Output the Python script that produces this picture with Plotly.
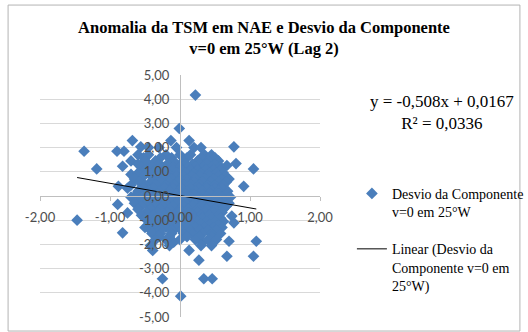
import plotly.graph_objects as go

# SST anomaly in NAE (x) vs. deviation of the v=0 component at 25°W (y), lag 2
anom_x = [
    # scattered points
    0.22, -0.01, -1.37, -1.19, -0.68, -0.80, -0.90, -0.56, -0.13, 0.13,
    0.77, 0.67, 0.80, 1.05, 0.91, 0.63, -0.82, -0.88, -0.70,
    -1.47, -0.82, -0.89, -0.75, -0.39, -0.09, -0.25, 0.01, 0.13, 0.27,
    0.34, 0.46, 0.67, 0.70, 0.77, 0.74, 1.09, 1.05, 0.32,
    # central cloud
    -0.45, -0.30, -0.05, 0.20, 0.30,
    -0.60, -0.45, -0.20, 0.00, 0.15, 0.35, 0.45,
    -0.52, -0.28, -0.12, 0.10, 0.30, 0.50,
    -0.70, -0.50, -0.35, -0.10, 0.05, 0.25, 0.40, 0.55,
    -0.60, -0.45, -0.30, -0.18, -0.05, 0.08, 0.18, 0.28, 0.38, 0.50,
    -0.55, -0.40, -0.25, -0.10, 0.00, 0.12, 0.22, 0.33, 0.45, 0.58,
    -0.50, -0.35, -0.22, -0.10, 0.02, 0.15, 0.25, 0.37, 0.48, 0.58,
    -0.60, -0.45, -0.30, -0.18, -0.05, 0.08, 0.20, 0.30, 0.42, 0.52, 0.62,
    -0.52, -0.30, -0.18, -0.05, 0.05, 0.17, 0.28, 0.42, 0.55, 0.65,
    -0.65, -0.38, -0.25, -0.12, 0.00, 0.10, 0.22, 0.35, 0.48, 0.60, 0.70,
    -0.58, -0.42, -0.28, -0.15, -0.02, 0.10, 0.20, 0.32, 0.44, 0.55, 0.66,
    -0.70, -0.50, -0.35, -0.20, -0.08, 0.05, 0.15, 0.28, 0.40, 0.50, 0.62,
    -0.75, -0.52, -0.38, -0.22, -0.10, 0.02, 0.16, 0.27, 0.38, 0.50, 0.60,
    -0.60, -0.45, -0.30, -0.15, -0.02, 0.10, 0.22, 0.32, 0.45, 0.55, 0.68,
    -0.62, -0.45, -0.32, -0.20, -0.05, 0.08, 0.20, 0.33, 0.44, 0.55, 0.66,
    -0.70, -0.52, -0.38, -0.25, -0.10, 0.02, 0.15, 0.27, 0.38, 0.50, 0.60, 0.72,
    -0.58, -0.42, -0.27, -0.12, 0.02, 0.14, 0.27, 0.40, 0.52, 0.64,
    -0.65, -0.48, -0.32, -0.20, -0.05, 0.08, 0.20, 0.33, 0.45, 0.58, 0.70,
    -0.55, -0.38, -0.25, -0.10, 0.05, 0.18, 0.30, 0.42, 0.55, 0.66,
    -0.60, -0.42, -0.28, -0.15, 0.00, 0.12, 0.25, 0.38, 0.50, 0.62,
    -0.48, -0.32, -0.18, -0.02, 0.12, 0.25, 0.36, 0.48, 0.60,
    -0.55, -0.38, -0.22, -0.08, 0.05, 0.18, 0.30, 0.42, 0.55,
    -0.50, -0.35, -0.20, -0.05, 0.08, 0.20, 0.32, 0.45, 0.58,
    -0.45, -0.30, -0.15, 0.00, 0.12, 0.25, 0.38, 0.50, 0.62,
    -0.40, -0.25, -0.10, 0.05, 0.18, 0.30, 0.42, 0.55,
    -0.50, -0.35, -0.20, -0.05, 0.10, 0.22, 0.35, 0.48, 0.60,
    -0.42, -0.28, -0.12, 0.02, 0.16, 0.28, 0.40, 0.52,
    -0.40, -0.28, -0.12, 0.05, 0.18, 0.32, 0.45, 0.58,
    -0.30, -0.15, 0.10, 0.28, 0.45,
    -0.35, -0.20, 0.00, 0.22, 0.40, 0.52,
    -0.42, -0.15, 0.30, 0.45,
]
desvio_y = [
    # scattered points
    4.17, 2.79, 1.85, 1.12, 2.29, 1.85, 1.85, 2.03, 2.29, 2.29,
    2.03, 1.26, 1.34, 1.12, 0.40, 0.06, 1.23, 0.40, 0.89,
    -1.00, -1.52, -0.35, -0.70, -2.25, -1.91, -3.42, -4.14, -2.25, -2.65,
    -3.42, -3.42, -2.49, -1.87, -1.11, -0.83, -1.87, -2.49, -1.93,
    # central cloud
    2.00, 2.00, 2.00, 2.00, 2.00,
    1.70, 1.70, 1.70, 1.70, 1.70, 1.70, 1.70,
    1.58, 1.58, 1.58, 1.58, 1.58, 1.58,
    1.45, 1.45, 1.45, 1.45, 1.45, 1.45, 1.45, 1.45,
    1.32, 1.32, 1.32, 1.32, 1.32, 1.32, 1.32, 1.32, 1.32, 1.32,
    1.20, 1.20, 1.20, 1.20, 1.20, 1.20, 1.20, 1.20, 1.20, 1.20,
    1.08, 1.08, 1.08, 1.08, 1.08, 1.08, 1.08, 1.08, 1.08, 1.08,
    0.95, 0.95, 0.95, 0.95, 0.95, 0.95, 0.95, 0.95, 0.95, 0.95, 0.95,
    0.82, 0.82, 0.82, 0.82, 0.82, 0.82, 0.82, 0.82, 0.82, 0.82,
    0.70, 0.70, 0.70, 0.70, 0.70, 0.70, 0.70, 0.70, 0.70, 0.70, 0.70,
    0.58, 0.58, 0.58, 0.58, 0.58, 0.58, 0.58, 0.58, 0.58, 0.58, 0.58,
    0.45, 0.45, 0.45, 0.45, 0.45, 0.45, 0.45, 0.45, 0.45, 0.45, 0.45,
    0.32, 0.32, 0.32, 0.32, 0.32, 0.32, 0.32, 0.32, 0.32, 0.32, 0.32,
    0.20, 0.20, 0.20, 0.20, 0.20, 0.20, 0.20, 0.20, 0.20, 0.20, 0.20,
    0.08, 0.08, 0.08, 0.08, 0.08, 0.08, 0.08, 0.08, 0.08, 0.08, 0.08,
    -0.05, -0.05, -0.05, -0.05, -0.05, -0.05, -0.05, -0.05, -0.05, -0.05, -0.05, -0.05,
    -0.18, -0.18, -0.18, -0.18, -0.18, -0.18, -0.18, -0.18, -0.18, -0.18,
    -0.30, -0.30, -0.30, -0.30, -0.30, -0.30, -0.30, -0.30, -0.30, -0.30, -0.30,
    -0.42, -0.42, -0.42, -0.42, -0.42, -0.42, -0.42, -0.42, -0.42, -0.42,
    -0.55, -0.55, -0.55, -0.55, -0.55, -0.55, -0.55, -0.55, -0.55, -0.55,
    -0.68, -0.68, -0.68, -0.68, -0.68, -0.68, -0.68, -0.68, -0.68,
    -0.80, -0.80, -0.80, -0.80, -0.80, -0.80, -0.80, -0.80, -0.80,
    -0.92, -0.92, -0.92, -0.92, -0.92, -0.92, -0.92, -0.92, -0.92,
    -1.05, -1.05, -1.05, -1.05, -1.05, -1.05, -1.05, -1.05, -1.05,
    -1.18, -1.18, -1.18, -1.18, -1.18, -1.18, -1.18, -1.18,
    -1.30, -1.30, -1.30, -1.30, -1.30, -1.30, -1.30, -1.30, -1.30,
    -1.42, -1.42, -1.42, -1.42, -1.42, -1.42, -1.42, -1.42,
    -1.55, -1.55, -1.55, -1.55, -1.55, -1.55, -1.55, -1.55,
    -1.68, -1.68, -1.68, -1.68, -1.68,
    -1.80, -1.80, -1.80, -1.80, -1.80, -1.80,
    -2.05, -2.05, -2.05, -2.05,
]

# linear trend fitted to the series
slope = -0.508
intercept = 0.0167
r_squared = 0.0336

x_ticks = [-2, -1, 0, 1, 2]
x_tick_labels = ["-2,00", "-1,00", "0,00", "1,00", "2,00"]
y_ticks = [-5, -4, -3, -2, -1, 0, 1, 2, 3, 4, 5]
y_tick_labels = ["-5,00", "-4,00", "-3,00", "-2,00", "-1,00", "0,00",
                 "1,00", "2,00", "3,00", "4,00", "5,00"]

serif = "Liberation Serif, Times New Roman, serif"
sans = "Lato, Carlito, Calibri, sans-serif"

fig = go.Figure()
fig.add_trace(go.Scatter(
    x=anom_x, y=desvio_y, mode="markers",
    marker=dict(symbol="diamond", size=9, color="#4a7ebb", line=dict(width=0)),
    name="Desvio da Componente<br>v=0 em 25°W",
    legendgroup="dados",
))

x_fit = [min(anom_x), max(anom_x)]
y_fit = [slope * v + intercept for v in x_fit]
fig.add_trace(go.Scatter(
    x=x_fit, y=y_fit, mode="lines",
    line=dict(color="black", width=1),
    name="Linear (Desvio da<br>Componente v=0 em<br>25°W)",
    legendgroup="tendencia",
))

eq_text = "y = {:.3f}x + {:.4f}<br>R² = {:.4f}".format(slope, intercept, r_squared).replace(".", ",")

fig.update_layout(
    width=528, height=332,
    margin=dict(l=40, r=208, t=75, b=15, autoexpand=False),
    paper_bgcolor="white", plot_bgcolor="white",
    title=dict(
        text="<b>Anomalia da TSM em NAE e Desvio da Componente<br>v=0 em 25°W (Lag 2)</b>",
        x=0.5, xanchor="center", y=0.902, yanchor="middle",
        font=dict(family=serif, size=16.5, color="black"),
    ),
    xaxis=dict(
        range=[-2, 2], anchor="free", position=0.5,
        showgrid=False, zeroline=False,
        showline=True, linecolor="#bfbfbf", linewidth=1,
        ticks="outside", ticklen=4, tickcolor="#bfbfbf",
        ticklabelstandoff=5,
        tickvals=x_ticks, ticktext=x_tick_labels,
        tickfont=dict(family=sans, size=13, color="#4d4d4d"),
    ),
    yaxis=dict(
        range=[-5, 5], anchor="free", position=0.5,
        showgrid=True, gridcolor="#d9d9d9", gridwidth=1, zeroline=False,
        showline=True, linecolor="#bfbfbf", linewidth=1,
        ticks="", ticklabelstandoff=8,
        tickvals=y_ticks, ticktext=y_tick_labels,
        tickfont=dict(family=sans, size=13, color="#4d4d4d"),
    ),
    showlegend=True,
    legend=dict(
        x=1.114, xanchor="left", y=0.575, yanchor="top",
        valign="top", itemwidth=30, tracegroupgap=16,
        font=dict(family=serif, size=14, color="black"),
        bgcolor="rgba(0,0,0,0)", borderwidth=0,
    ),
    annotations=[dict(
        text=eq_text, xref="paper", yref="paper",
        x=1.436, y=0.843, xanchor="center", yanchor="middle",
        showarrow=False, align="center",
        font=dict(family=serif, size=17, color="black"),
    )],
    shapes=[dict(
        type="rect", xref="paper", yref="paper",
        x0=-0.114, x1=1.714, y0=-0.058, y1=1.289,
        line=dict(color="#b3b3b3", width=1), fillcolor="rgba(0,0,0,0)",
        layer="below",
    )],
)

fig.write_html("out.html")
